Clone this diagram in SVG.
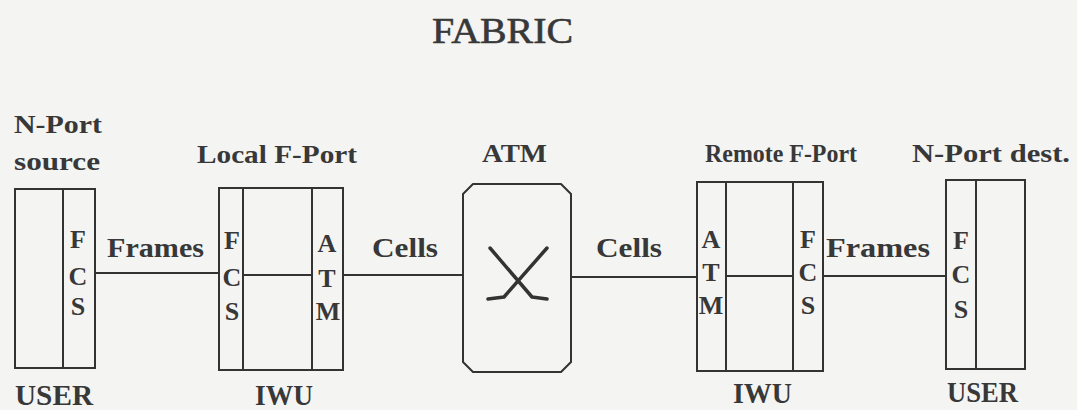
<svg xmlns="http://www.w3.org/2000/svg" width="1077" height="410" viewBox="0 0 1077 410">
<style>
.bg{fill:#f4f4f3}
.box{fill:none;stroke:#333;stroke-width:2}
.ln{stroke:#333;stroke-width:2;fill:none}
.t{font-family:"Liberation Serif","DejaVu Serif",serif;font-weight:bold;fill:#383838}
.h{font-size:25px}
.l{font-size:26px;text-anchor:middle}
.c{font-size:27px}
.b{font-size:29px}
</style>
<rect class="bg" x="0" y="0" width="1077" height="410"/>
<text x="432" y="43" font-family="'Liberation Serif','DejaVu Serif',serif" font-size="36" fill="#383838" stroke="#383838" stroke-width="0.6" textLength="141" lengthAdjust="spacingAndGlyphs">FABRIC</text>

<g id="connectors">
<line class="ln" x1="95" y1="273" x2="219" y2="273"/>
<line class="ln" x1="343" y1="275" x2="463" y2="275"/>
<line class="ln" x1="571" y1="277" x2="697" y2="277"/>
<line class="ln" x1="823" y1="276" x2="946" y2="276"/>
<text class="t c" x="107" y="257" textLength="97" lengthAdjust="spacingAndGlyphs">Frames</text>
<text class="t c" x="372" y="257" textLength="66" lengthAdjust="spacingAndGlyphs">Cells</text>
<text class="t c" x="596" y="257" textLength="66" lengthAdjust="spacingAndGlyphs">Cells</text>
<text class="t c" x="826" y="257" textLength="104" lengthAdjust="spacingAndGlyphs">Frames</text>
</g>

<g id="nport-source">
<text class="t h" x="14" y="133" textLength="88" lengthAdjust="spacingAndGlyphs">N-Port</text>
<text class="t h" x="14" y="170" textLength="86" lengthAdjust="spacingAndGlyphs">source</text>
<rect class="box" x="15" y="189" width="80" height="179"/>
<line class="ln" x1="63" y1="189" x2="63" y2="368"/>
<text class="t l" x="78" y="248">F</text>
<text class="t l" x="78" y="285">C</text>
<text class="t l" x="78" y="315">S</text>
<text class="t b" x="15" y="405" textLength="78" lengthAdjust="spacingAndGlyphs">USER</text>
</g>

<g id="local-fport">
<text class="t h" x="197" y="163" textLength="160" lengthAdjust="spacingAndGlyphs">Local F-Port</text>
<rect class="box" x="219" y="188" width="124" height="182"/>
<line class="ln" x1="243" y1="188" x2="243" y2="370"/>
<line class="ln" x1="312" y1="188" x2="312" y2="370"/>
<line class="ln" x1="243" y1="275" x2="312" y2="275"/>
<text class="t l" x="232" y="249">F</text>
<text class="t l" x="232" y="286">C</text>
<text class="t l" x="232" y="320">S</text>
<text class="t l" x="327" y="252">A</text>
<text class="t l" x="327" y="287">T</text>
<text class="t l" x="328" y="320">M</text>
<text class="t b" x="255" y="405" textLength="58" lengthAdjust="spacingAndGlyphs">IWU</text>
</g>

<g id="atm">
<text class="t h" x="482" y="162" textLength="65" lengthAdjust="spacingAndGlyphs">ATM</text>
<path class="box" d="M473,184 H561 L571,194 V362 L561,372 H473 L463,362 V194 Z" stroke-linejoin="round"/>
<path d="M490,248 L532,297 L547,299 M547,248 L504,297 L488,299" fill="none" stroke="#333" stroke-width="3.5" stroke-linecap="round" stroke-linejoin="round"/>
</g>

<g id="remote-fport">
<text class="t h" x="705" y="162" textLength="152" lengthAdjust="spacingAndGlyphs">Remote F-Port</text>
<rect class="box" x="697" y="182" width="126" height="189"/>
<line class="ln" x1="726" y1="182" x2="726" y2="371"/>
<line class="ln" x1="793" y1="182" x2="793" y2="371"/>
<line class="ln" x1="726" y1="276" x2="793" y2="276"/>
<text class="t l" x="711" y="248">A</text>
<text class="t l" x="711" y="281">T</text>
<text class="t l" x="711" y="314">M</text>
<text class="t l" x="808" y="248">F</text>
<text class="t l" x="808" y="281">C</text>
<text class="t l" x="808" y="314">S</text>
<text class="t b" x="733" y="403" textLength="59" lengthAdjust="spacingAndGlyphs">IWU</text>
</g>

<g id="nport-dest">
<text class="t h" x="912" y="162" textLength="158" lengthAdjust="spacingAndGlyphs">N-Port dest.</text>
<rect class="box" x="946" y="180" width="79" height="189"/>
<line class="ln" x1="976" y1="180" x2="976" y2="369"/>
<text class="t l" x="961" y="249">F</text>
<text class="t l" x="961" y="283">C</text>
<text class="t l" x="961" y="318">S</text>
<text class="t b" x="947" y="402" textLength="71" lengthAdjust="spacingAndGlyphs">USER</text>
</g>
</svg>
